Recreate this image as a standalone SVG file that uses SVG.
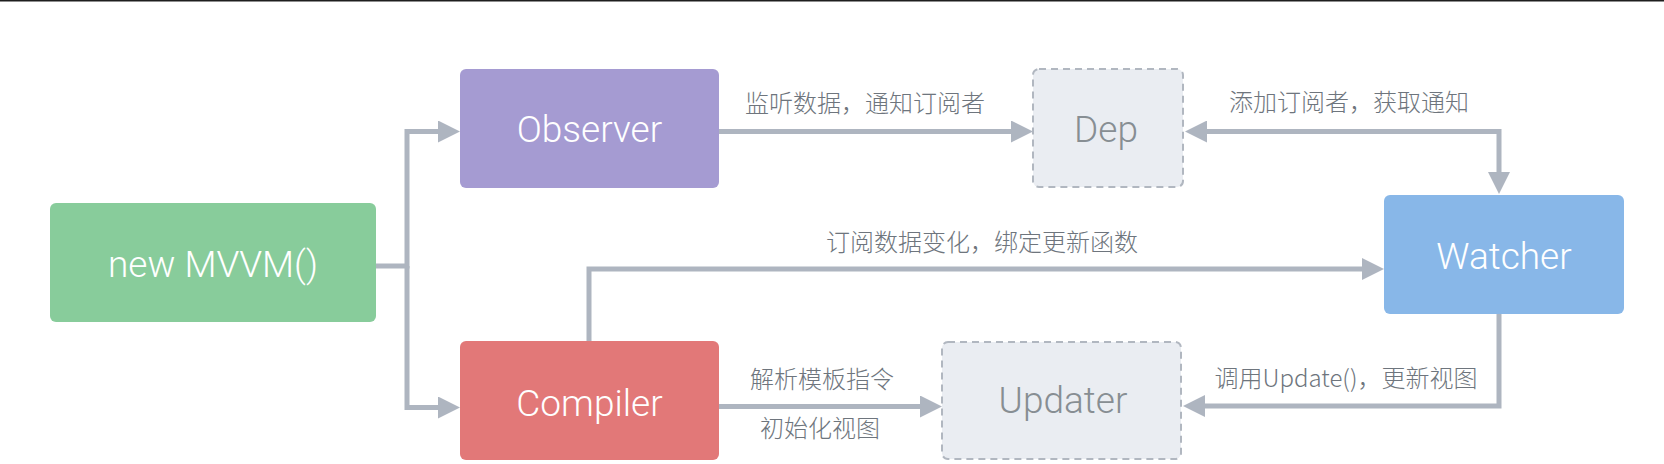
<svg xmlns="http://www.w3.org/2000/svg" width="1664" height="464" viewBox="0 0 1664 464">
  <style>
    .box { stroke: none; }
    .ghost { fill: #eaedf2; stroke: #b1b7c0; stroke-width: 2; stroke-dasharray: 7 5; }
    .ntext { font-family: Roboto, "Liberation Sans", Arial, sans-serif; font-weight: 300; font-size: 37px; fill: #ffffff; text-anchor: middle; }
    .gtext { fill: #878e93; }
    .lbl { font-family: "Noto Sans CJK SC", "Liberation Sans", sans-serif; font-weight: 300; font-size: 24px; fill: #6e757d; text-anchor: middle; }
    .conn { fill: none; stroke: #aeb5c0; stroke-width: 5; stroke-linejoin: miter; stroke-linecap: butt; }
  </style>
  <defs>
    <marker id="arrow" markerUnits="userSpaceOnUse" viewBox="0 0 22 22" markerWidth="22" markerHeight="22" refX="2" refY="11" orient="auto-start-reverse">
      <path d="M0,0 L22,11 L0,22 z" fill="#aeb5c0"/>
    </marker>
  </defs>
  <rect width="1664" height="464" fill="#ffffff"/>
  <rect x="0" y="0" width="1664" height="1.5" fill="#1e1e1e"/>

  <g id="connectors">
    <path class="conn" d="M376,266 H407 V131.5 H440" marker-end="url(#arrow)"/>
    <path class="conn" d="M407,266 V407.5 H440" marker-end="url(#arrow)"/>
    <path class="conn" d="M719,131.5 H1013" marker-end="url(#arrow)"/>
    <path class="conn" d="M1499,174 V131.5 H1205" marker-start="url(#arrow)" marker-end="url(#arrow)"/>
    <path class="conn" d="M589,341 V269 H1364" marker-end="url(#arrow)"/>
    <path class="conn" d="M719,406.5 H922" marker-end="url(#arrow)"/>
    <path class="conn" d="M1499,314 V406 H1203" marker-end="url(#arrow)"/>
    <text class="lbl" x="865" y="112">监听数据，通知订阅者</text>
    <text class="lbl" x="1349" y="111">添加订阅者，获取通知</text>
    <text class="lbl" x="982" y="251">订阅数据变化，绑定更新函数</text>
    <text class="lbl" x="822" y="388">解析模板指令</text>
    <text class="lbl" x="820" y="437">初始化视图</text>
    <text class="lbl" x="1346" y="387">调用Update()，更新视图</text>
  </g>

  <g id="mvvm">
    <rect class="box" x="50" y="203" width="326" height="119" rx="6" fill="#88cc9b"/>
    <text class="ntext" x="213" y="277">new MVVM()</text>
  </g>
  <g id="observer">
    <rect class="box" x="460" y="69" width="259" height="119" rx="6" fill="#a59bd2"/>
    <text class="ntext" x="589.5" y="142">Observer</text>
  </g>
  <g id="compiler">
    <rect class="box" x="460" y="341" width="259" height="119" rx="6" fill="#e27878"/>
    <text class="ntext" x="589.5" y="416">Compiler</text>
  </g>
  <g id="dep">
    <rect class="ghost" x="1033" y="69" width="150" height="118" rx="6"/>
    <text class="ntext gtext" x="1106" y="142">Dep</text>
  </g>
  <g id="updater">
    <rect class="ghost" x="942" y="342" width="239" height="117" rx="6"/>
    <text class="ntext gtext" x="1063" y="413">Updater</text>
  </g>
  <g id="watcher">
    <rect class="box" x="1384" y="195" width="240" height="119" rx="6" fill="#88b7e8"/>
    <text class="ntext" x="1504" y="269">Watcher</text>
  </g>
</svg>
